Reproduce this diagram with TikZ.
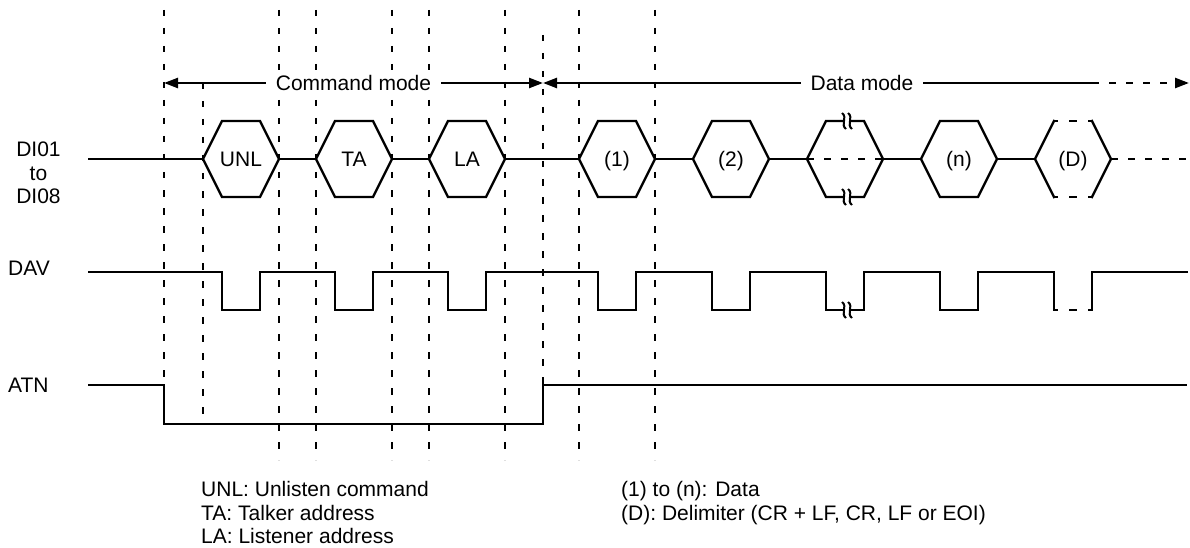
\documentclass[tikz,border=0pt]{standalone}
\usepackage{fontspec}
\setmainfont{Liberation Sans}
\usetikzlibrary{arrows.meta}
\newcommand\myhex[3]{% #1 left x, #2 node name, #3 label
  \draw[sig] (#1,159) -- (#1+19,121) -- (#1+57,121) -- (#1+76,159) -- (#1+57,197) -- (#1+19,197) -- cycle;
  \node[lbl, anchor=base] (#2) at (#1+38,166.5) {#3};
}
\newcommand\mysquig[2]{%
  \draw[line width=2pt] (#1-2,#2-8) .. controls (#1+4,#2-3.5) and (#1-4,#2+3.5) .. (#1+2,#2+8);
}
\begin{document}
\begin{tikzpicture}[x=1pt,y=-1pt,
  sig/.style={line width=2.4pt, line join=miter, line cap=butt},
  vgrid/.style={line width=2.5pt, dash pattern=on 6.5pt off 11.5pt},
  hdash/.style={line width=2.4pt, dash pattern=on 7pt off 10pt},
  brk/.style={line width=2.4pt, dash pattern=on 8pt off 11pt, dash phase=4pt},
  lbl/.style={font=\fontsize{21}{24}\selectfont, inner sep=0pt},
  tri/.tip={Triangle[length=14pt,width=10pt]},
]
\useasboundingbox[fill=white] (0,0) rectangle (1190,548);

% vertical dashed guides
\foreach \x in {279,316,392,429,505,579,655} \draw[vgrid] (\x,10) -- (\x,460);
\draw[vgrid] (164,10) -- (164,424);
\draw[vgrid] (203,83) -- (203,424);
\draw[vgrid] (543,35) -- (543,385);

% mode arrows
\coordinate (cmL) at (164,83);
\coordinate (modeB) at (543,83);
\coordinate (dmS) at (1092,83);
\coordinate (dmE) at (1189,83);
\draw[sig, tri-tri] (cmL) -- (modeB);
\draw[sig, tri-] (modeB) -- (dmS);
\draw[hdash, -tri] (dmS) -- (dmE);
\node[lbl, fill=white, inner xsep=10pt, inner ysep=3pt] (cmd) at (353.5,83) {Command mode};
\node[lbl, fill=white, inner xsep=10pt, inner ysep=3pt] (dat) at (862,83) {Data mode};

% signal names
\node[lbl, anchor=base] (di1) at (38.5,156.5) {DI01};
\node[lbl, anchor=base] (di2) at (38.5,180.5) {to};
\node[lbl, anchor=base] (di3) at (38.5,203.5) {DI08};
\node[lbl, anchor=base west] (dav) at (8,275.5) {DAV};
\node[lbl, anchor=base west] (atn) at (8,392) {ATN};

% DI bus
\draw[sig] (88,159) -- (203,159);
\draw[sig] (279,159) -- (316,159);
\draw[sig] (392,159) -- (429,159);
\draw[sig] (505,159) -- (579,159);
\draw[sig] (655,159) -- (693,159);
\draw[sig] (769,159) -- (807,159);
\draw[sig] (883,159) -- (921,159);
\draw[sig] (997,159) -- (1035,159);
\draw[hdash] (807,159) -- (883,159);
\draw[hdash] (1111,159) -- (1187,159);

\myhex{203}{hUNL}{UNL}
\myhex{316}{hTA}{TA}
\myhex{429}{hLA}{LA}
\myhex{579}{h1}{(1)}
\myhex{693}{h2}{(2)}
\myhex{921}{hn}{(n)}

% broken hexagon
\draw[sig] (844,121) -- (826,121) -- (807,159) -- (826,197) -- (844,197);
\draw[sig] (850,121) -- (864,121) -- (883,159) -- (864,197) -- (850,197);
\mysquig{844}{121}\mysquig{850}{121}
\mysquig{844}{197}\mysquig{850}{197}

% delimiter hexagon
\draw[sig, line cap=rect] (1054,121) -- (1035,159) -- (1054,197);
\draw[sig, line cap=rect] (1092,121) -- (1111,159) -- (1092,197);
\draw[brk] (1054,121) -- (1092,121);
\draw[brk] (1054,197) -- (1092,197);
\node[lbl, anchor=base] (hD) at (1073,166.5) {(D)};

% DAV
\draw[sig] (88,272) -- (222,272) -- (222,310) -- (260,310) -- (260,272)
  -- (335,272) -- (335,310) -- (373,310) -- (373,272)
  -- (448,272) -- (448,310) -- (486,310) -- (486,272)
  -- (598,272) -- (598,310) -- (636,310) -- (636,272)
  -- (712,272) -- (712,310) -- (750,310) -- (750,272)
  -- (826,272) -- (826,310) -- (844,310);
\draw[sig, line cap=rect] (850,310) -- (864,310) -- (864,272) -- (940,272) -- (940,310) -- (978,310) -- (978,272)
  -- (1054,272) -- (1054,310);
\draw[sig, line cap=rect] (1092,310) -- (1092,272) -- (1187,272);
\draw[brk] (1054,310) -- (1092,310);
\mysquig{844}{310}\mysquig{850}{310}

% ATN
\draw[sig] (88,385) -- (164,385) -- (164,424) -- (543,424) -- (543,385) -- (1187,385);

% legend
\node[lbl, anchor=base west] (lg1) at (201,496.5) {UNL: Unlisten command};
\node[lbl, anchor=base west] (lg2) at (201,520) {TA: Talker address};
\node[lbl, anchor=base west] (lg3) at (201,543.5) {LA: Listener address};
\node[lbl, anchor=base west] (lg4) at (621,496.5) {(1) to (n): Data};
\node[lbl, anchor=base west] (lg5) at (621,520) {(D): Delimiter (CR + LF, CR, LF or EOI)};
\end{tikzpicture}
\end{document}
